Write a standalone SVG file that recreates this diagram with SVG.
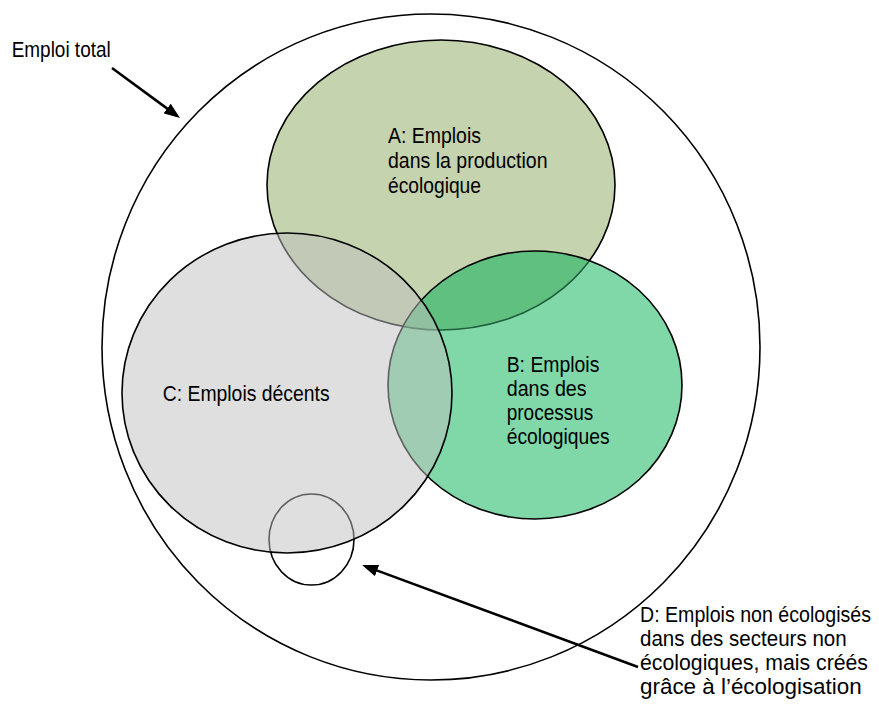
<svg xmlns="http://www.w3.org/2000/svg" width="879" height="704" viewBox="0 0 879 704">
<style>
.t{font-family:"Liberation Sans",Arial,Helvetica,sans-serif;font-size:22px;fill:#000}
.ln{fill:none;stroke:#000;stroke-width:1.6}
.arrow{fill:none;stroke:#000;stroke-width:2.6}
</style>
<defs>
<marker id="ah" viewBox="0 0 16 12" refX="12" refY="6" markerWidth="16" markerHeight="12" markerUnits="userSpaceOnUse" orient="auto">
<path d="M0,0 L16,6 L0,12 z" fill="#000"/>
</marker>
<clipPath id="clipB"><ellipse cx="535" cy="385" rx="147" ry="134"/></clipPath>
</defs>
<rect width="879" height="704" fill="#fff"/>
<g id="total">
<ellipse class="ln" cx="431" cy="347" rx="329" ry="333"/>
<text class="t" x="11.7" y="57" textLength="99" lengthAdjust="spacingAndGlyphs">Emploi total</text>
</g>
<g id="nodeA">
<ellipse cx="441" cy="185" rx="174" ry="145" fill="#c5d3ae" stroke="#000" stroke-width="1.6"/>
<text class="t" x="388" y="143" textLength="93" lengthAdjust="spacingAndGlyphs">A: Emplois</text>
<text class="t" x="388" y="168" textLength="159.5" lengthAdjust="spacingAndGlyphs">dans la production</text>
<text class="t" x="388" y="193" textLength="93" lengthAdjust="spacingAndGlyphs">écologique</text>
</g>
<g id="nodeB">
<ellipse cx="535" cy="385" rx="147" ry="134" fill="#80d8a8"/>
<ellipse cx="441" cy="185" rx="174" ry="145" fill="#60c080" stroke="#1f5f3c" stroke-width="1.6" clip-path="url(#clipB)"/>
<ellipse class="ln" cx="535" cy="385" rx="147" ry="134"/>
<text class="t" x="506.7" y="372" textLength="92.7" lengthAdjust="spacingAndGlyphs">B: Emplois</text>
<text class="t" x="506.7" y="396" textLength="80" lengthAdjust="spacingAndGlyphs">dans des</text>
<text class="t" x="506.7" y="420" textLength="86.7" lengthAdjust="spacingAndGlyphs">processus</text>
<text class="t" x="506.7" y="444" textLength="103" lengthAdjust="spacingAndGlyphs">écologiques</text>
</g>
<g id="nodeD">
<ellipse class="ln" cx="311.5" cy="539.5" rx="42.5" ry="45.5"/>
<text class="t" x="640" y="622" textLength="231" lengthAdjust="spacingAndGlyphs">D: Emplois non écologisés</text>
<text class="t" x="640" y="646" textLength="206.7" lengthAdjust="spacingAndGlyphs">dans des secteurs non</text>
<text class="t" x="640" y="670" textLength="228" lengthAdjust="spacingAndGlyphs">écologiques, mais créés</text>
<text class="t" x="640" y="694" textLength="221.7" lengthAdjust="spacingAndGlyphs">grâce à l’écologisation</text>
</g>
<g id="nodeC">
<ellipse cx="287" cy="393" rx="165" ry="160" fill="#c0c0c0" fill-opacity="0.5" stroke="#000" stroke-width="1.6"/>
<text class="t" x="162.7" y="401" textLength="167" lengthAdjust="spacingAndGlyphs">C: Emplois décents</text>
</g>
<g id="connectors">
<line class="arrow" x1="112" y1="68" x2="176.8" y2="115.6" marker-end="url(#ah)"/>
<line class="arrow" x1="638" y1="667" x2="365.8" y2="566.4" marker-end="url(#ah)"/>
</g>
</svg>
